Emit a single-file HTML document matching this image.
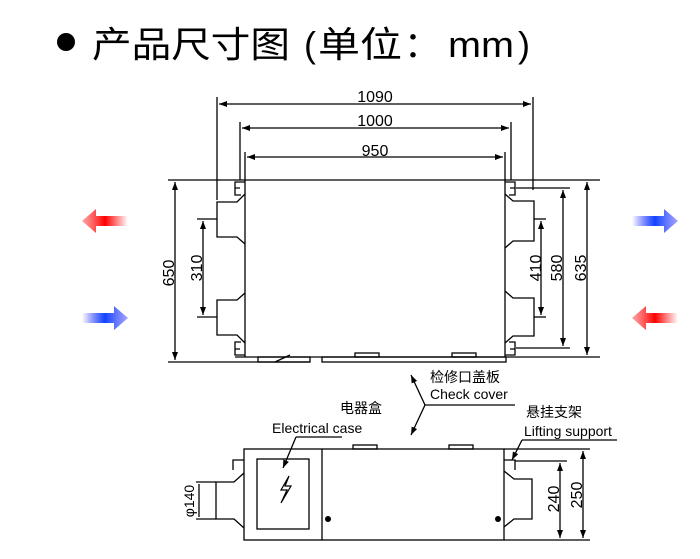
<!DOCTYPE html>
<html><head><meta charset="utf-8"><style>
html,body{margin:0;padding:0;background:#fff;}
body{width:700px;height:559px;overflow:hidden;position:relative;}
svg{position:absolute;left:0;top:0;}
</style></head><body>
<svg width="700" height="559" viewBox="0 0 700 559" xmlns="http://www.w3.org/2000/svg" font-family="Liberation Sans, Noto Sans CJK SC, sans-serif">
<defs>
<marker id="a" markerWidth="8" markerHeight="6" refX="8" refY="3" orient="auto-start-reverse" markerUnits="userSpaceOnUse"><path d="M0,0 L8,3 L0,6 Z" fill="#000"/></marker>
<linearGradient id="rL" x1="0" x2="1"><stop offset="0" stop-color="#f66" stop-opacity="0.6"/><stop offset="0.5" stop-color="#f00"/><stop offset="1" stop-color="#f00" stop-opacity="0"/></linearGradient>
<linearGradient id="bR" x1="0" x2="1"><stop offset="0" stop-color="#00f" stop-opacity="0"/><stop offset="0.5" stop-color="#14f"/><stop offset="1" stop-color="#66f" stop-opacity="0.6"/></linearGradient>
</defs>
<circle cx="66" cy="42" r="9" fill="#000"/>
<g font-size="36" fill="#000">
<text x="92" y="57" textLength="198" lengthAdjust="spacingAndGlyphs">产品尺寸图</text>
<text x="304" y="57">(</text>
<text x="318" y="57" textLength="84" lengthAdjust="spacingAndGlyphs">单位</text>
<text x="404" y="57">：</text>
<text x="448" y="57" textLength="66" lengthAdjust="spacingAndGlyphs">mm</text>
<text x="518" y="57">)</text>
</g>

<g>
<path d="M82,221 L96,209 L96,216 L128,216 L128,226 L96,226 L96,233 Z" fill="url(#rL)"/>
<path d="M128,318 L114,306 L114,313 L82,313 L82,323 L114,323 L114,330 Z" fill="url(#bR)"/>
<path d="M678,221 L664,209 L664,216 L632,216 L632,226 L664,226 L664,233 Z" fill="url(#bR)"/>
<path d="M632,318 L646,306 L646,313 L678,313 L678,323 L646,323 L646,330 Z" fill="url(#rL)"/>
</g>

<g stroke="#000" fill="none" stroke-width="1.3">
<line x1="217" y1="97" x2="217" y2="200"/><line x1="533" y1="97" x2="533" y2="190"/>
<line x1="219" y1="104" x2="531" y2="104" marker-start="url(#a)" marker-end="url(#a)"/>
<line x1="240" y1="122" x2="240" y2="180"/><line x1="511" y1="122" x2="511" y2="180"/>
<line x1="242" y1="128" x2="509" y2="128" marker-start="url(#a)" marker-end="url(#a)"/>
<line x1="245" y1="152" x2="245" y2="180"/><line x1="505" y1="152" x2="505" y2="180"/>
<line x1="247" y1="157" x2="503" y2="157" marker-start="url(#a)" marker-end="url(#a)"/>
<line x1="168" y1="180" x2="600" y2="180"/>
<line x1="245" y1="180" x2="245" y2="357"/><line x1="505" y1="180" x2="505" y2="357"/>
<line x1="235" y1="357" x2="516" y2="357"/>
<line x1="168" y1="362" x2="310" y2="362"/>
<rect x="258" y="357" width="52" height="5"/>
<rect x="322" y="357" width="184" height="5"/>
<rect x="355" y="353" width="24" height="4"/><rect x="452" y="353" width="24" height="4"/>
<line x1="275" y1="362" x2="290" y2="355"/>
<path d="M245,182 L235,182 L235,195 L241,195 M235,188 L240,188"/>
<path d="M245,355 L235,355 L235,342 L241,342 M235,349 L240,349"/>
<path d="M505,182 L515,182 L515,195 L509,195 M515,188 L510,188"/>
<path d="M505,355 L515,355 L515,342 L509,342 M515,349 L510,349"/>
<path d="M245,194 L237,202 L217,202 L217,237 L237,237 L245,244"/>
<path d="M245,293 L237,300 L217,300 L217,335 L237,335 L245,343"/>
<path d="M505,194 L513,201 L534,201 L534,241 L513,241 L505,248"/>
<path d="M505,291 L513,298 L534,298 L534,336 L513,336 L505,343"/>
<line x1="175" y1="182" x2="175" y2="360" marker-start="url(#a)" marker-end="url(#a)"/>
<line x1="197" y1="219" x2="217" y2="219"/><line x1="197" y1="317" x2="217" y2="317"/>
<line x1="203" y1="221" x2="203" y2="315" marker-start="url(#a)" marker-end="url(#a)"/>
<line x1="534" y1="219" x2="546" y2="219"/><line x1="534" y1="317" x2="546" y2="317"/>
<line x1="541" y1="221" x2="541" y2="315" marker-start="url(#a)" marker-end="url(#a)"/>
<line x1="516" y1="188" x2="570" y2="188"/><line x1="516" y1="348" x2="570" y2="348"/>
<line x1="563" y1="190" x2="563" y2="346" marker-start="url(#a)" marker-end="url(#a)"/>
<line x1="516" y1="357" x2="600" y2="357"/>
<line x1="587" y1="182" x2="587" y2="355" marker-start="url(#a)" marker-end="url(#a)"/>

<line x1="425" y1="405" x2="515" y2="405"/>
<line x1="425" y1="405" x2="411" y2="375" marker-end="url(#a)"/>
<line x1="425" y1="405" x2="411" y2="435" marker-end="url(#a)"/>
<line x1="342" y1="437" x2="296" y2="437"/>
<line x1="296" y1="437" x2="283" y2="468" marker-end="url(#a)"/>
<line x1="617" y1="440" x2="522" y2="440"/>
<line x1="522" y1="440" x2="512" y2="460" marker-end="url(#a)"/>

<rect x="244" y="449" width="260" height="91"/>
<line x1="322" y1="449" x2="322" y2="540"/>
<rect x="257" y="459" width="52" height="70"/>
<rect x="353" y="445" width="24" height="4"/><rect x="449" y="445" width="24" height="4"/>
<path d="M244,460 L233,460 L233,470"/>
<path d="M504,460 L515,460 L515,470"/>
<path d="M244,473 L234,482 L216,482 L216,519 L234,519 L244,528"/>
<path d="M504,471 L514,479 L532,479 L532,519 L514,519 L504,527"/>
<path d="M289,476 L281,490 L287,490 L281,503 L291,486 L285,486 Z" stroke-width="1.2"/>
<line x1="196" y1="482" x2="216" y2="482"/><line x1="196" y1="519" x2="216" y2="519"/>
<line x1="199" y1="484" x2="199" y2="517"/>
<line x1="515" y1="461" x2="567" y2="461"/>
<line x1="504" y1="540" x2="590" y2="540"/>
<line x1="504" y1="449" x2="590" y2="449"/>
<line x1="560" y1="463" x2="560" y2="538" marker-start="url(#a)" marker-end="url(#a)"/>
<line x1="583" y1="451" x2="583" y2="538" marker-start="url(#a)" marker-end="url(#a)"/>
</g>
<circle cx="328" cy="519" r="3" fill="#000"/><circle cx="498" cy="519" r="3" fill="#000"/>

<g font-size="16" fill="#000" text-anchor="middle">
<text x="375" y="102">1090</text>
<text x="375" y="126">1000</text>
<text x="375" y="156">950</text>
<text transform="translate(174,273) rotate(-90)">650</text>
<text transform="translate(202,268) rotate(-90)">310</text>
<text transform="translate(541,268) rotate(-90)">410</text>
<text transform="translate(562,268) rotate(-90)">580</text>
<text transform="translate(586,268) rotate(-90)">635</text>
<text transform="translate(559,499) rotate(-90)">240</text>
<text transform="translate(582,495) rotate(-90)">250</text>
<text transform="translate(194,501) rotate(-90)" font-size="14">φ140</text>
</g>
<g font-size="14" fill="#000">
<text x="430" y="382">检修口盖板</text>
<text x="430" y="399">Check cover</text>
<text x="340" y="413">电器盒</text>
<text x="272" y="433">Electrical case</text>
<text x="526" y="417">悬挂支架</text>
<text x="524" y="436">Lifting support</text>
</g>
</svg>
</body></html>
